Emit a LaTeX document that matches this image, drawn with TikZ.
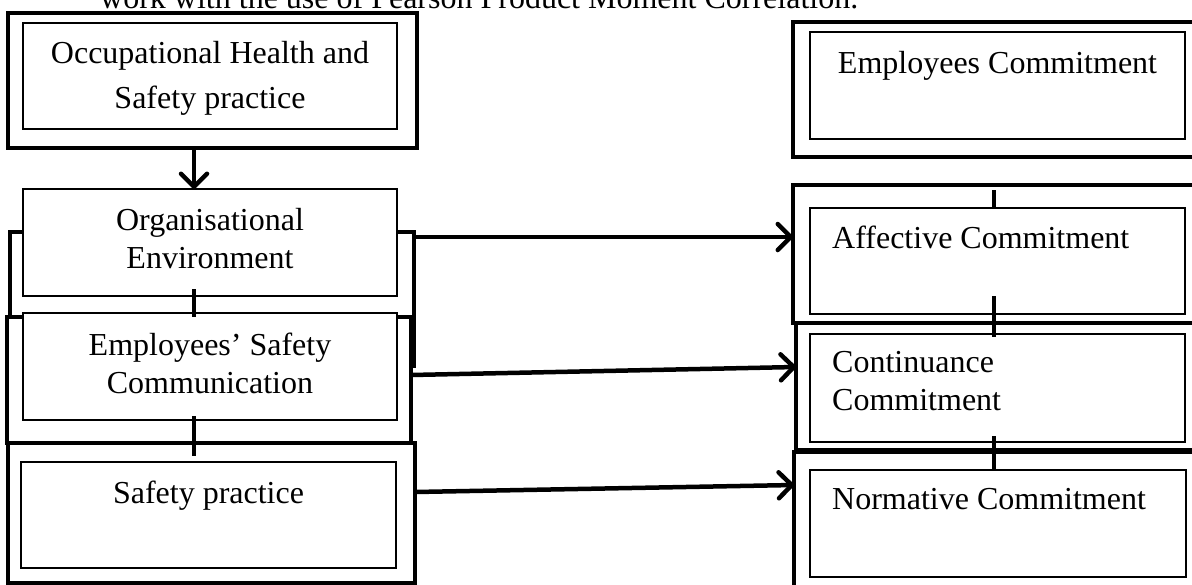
\documentclass[tikz,border=0pt]{standalone}
\usepackage{fontspec}
\setmainfont{Liberation Serif}
\usetikzlibrary{arrows.meta,positioning}

\begin{document}
\begin{tikzpicture}[x=1pt,y=-1pt,>={Straight Barb[length=13pt,width=26pt,round]},
                    frame/.style={draw,line width=4.5pt,inner sep=0pt,outer sep=0pt,anchor=north west},
                    box/.style={draw,fill=white,line width=1.4pt,inner sep=0pt,outer sep=0pt,anchor=north west},
                    lbl/.style={font=\fontsize{32}{38}\selectfont,inner sep=0pt,align=center},
                    tick/.style={line width=4.5pt},
                    arr/.style={->,line width=4.5pt}]
  \useasboundingbox (0,0) rectangle (1192,584);
  \clip (0,0) rectangle (1192,584);

  \node[lbl,anchor=base west] (caption) at (100,8) {work with the use of Pearson Product Moment Correlation.};

  % outer frames
  \node[frame,minimum width=409,minimum height=135] (ohsframe) at (8,13) {};
  \node[frame,minimum width=404,minimum height=85]  (orgframe) at (10,232) {};
  \node[frame,minimum width=404,minimum height=126] (escframe) at (7,317) {};
  \node[frame,minimum width=407,minimum height=140] (spframe)  at (8,443) {};
  \draw[tick] (orgframe.north east) -- ++(0,136);

  \node[frame,minimum width=420,minimum height=135] (ecframe) at (793,22) {};
  \node[frame,minimum width=420,minimum height=138] (acframe) at (793,185) {};
  \node[frame,minimum width=420,minimum height=127] (ccframe) at (796,323) {};
  \node[frame,minimum width=420,minimum height=150] (ncframe) at (794,452) {};

  % inner boxes
  \node[box,minimum width=374,minimum height=106] (ohsbox) at (23,23) {};
  \node[box,minimum width=374,minimum height=107] (orgbox) at (23,189) {};
  \node[box,minimum width=374,minimum height=107] (escbox) at (23,313) {};
  \node[box,minimum width=375,minimum height=106] (spbox)  at (21,462) {};

  \node[box,minimum width=375,minimum height=107] (ecbox) at (810,32) {};
  \node[box,minimum width=375,minimum height=106] (acbox) at (810,208) {};
  \node[box,minimum width=375,minimum height=108] (ccbox) at (810,334) {};
  \node[box,minimum width=376,minimum height=107] (ncbox) at (810,470) {};

  % texts
  \node[lbl,font=\fontsize{32}{45}\selectfont,below=18pt of ohsbox.north] (ohs) {Occupational Health and\\Safety practice};
  \node[lbl,below=19pt of orgbox.north] (org) {Organisational\\Environment};
  \node[lbl,below=20pt of escbox.north] (esc) {Employees’ Safety\\Communication};
  \node[lbl,below=19pt of spbox.north] (sp) {Safety practice};

  \node[lbl,below=19pt of ecbox.north] (ec) {Employees Commitment};
  \node[lbl,anchor=north west,below right=18pt and 22pt of acbox.north west] (ac) {Affective Commitment};
  \node[lbl,align=left,anchor=north west,below right=17pt and 22pt of ccbox.north west] (cc) {Continuance\\Commitment};
  \node[lbl,anchor=north west,below right=18pt and 22pt of ncbox.north west] (nc) {Normative Commitment};

  % links
  \coordinate (lx) at (194,0);
  \coordinate (rx) at (994,0);
  \draw[arr] (ohsframe.south -| lx) -- (orgbox.north -| lx);
  \draw[tick] ([yshift=7pt]orgbox.south -| lx) -- ([yshift=-4pt]escbox.north -| lx);
  \draw[tick] ([yshift=4pt]escbox.south -| lx) -- ([yshift=6pt]spbox.north -| lx);

  \draw[tick] ([yshift=-5pt]acframe.north -| rx) -- (acbox.north -| rx);
  \draw[tick] ([yshift=18pt]acbox.south -| rx) -- ([yshift=-3pt]ccbox.north -| rx);
  \draw[tick] ([yshift=6pt]ccbox.south -| rx) -- (ncbox.north -| rx);

  \draw[arr] ([yshift=-5pt]orgframe.north east) -- ([yshift=-5pt]orgframe.north east -| acframe.west);
  \draw[arr] ([yshift=-58pt]escframe.north east) -- ([yshift=-44pt]ccframe.north west);
  \draw[arr] ([yshift=-49pt]spframe.north east) -- ([yshift=-33pt]ncframe.north west);
\end{tikzpicture}
\end{document}
